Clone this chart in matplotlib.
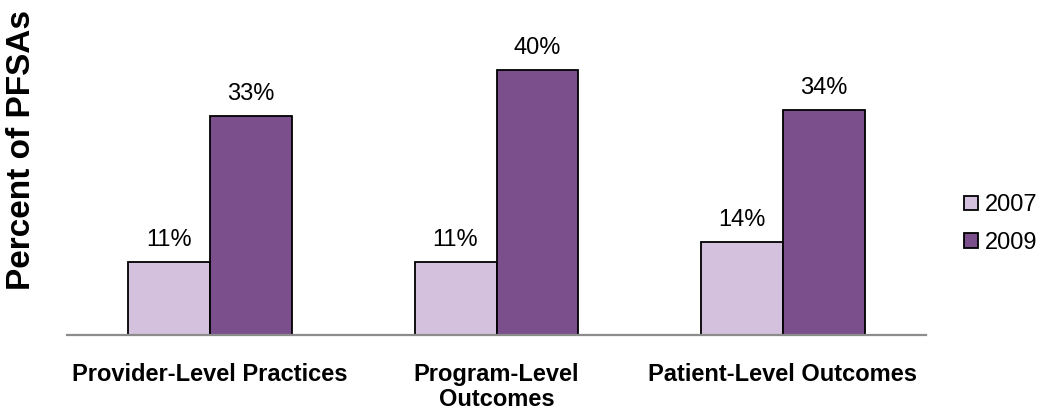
import matplotlib
matplotlib.use("Agg")
import matplotlib.pyplot as plt
import numpy as np

categories = ["Provider-Level Practices", "Program-Level\nOutcomes", "Patient-Level Outcomes"]
series_names = ["2007", "2009"]
values_2007 = [11, 11, 14]
values_2009 = [33, 40, 34]

plt.rcParams['font.family'] = ['Liberation Sans', 'DejaVu Sans']

fig = plt.figure(figsize=(10.42, 4.15), dpi=100)
W, H = 1042, 415
ax = fig.add_axes([67 / W, (H - 335) / H, (926 - 67) / W, 298 / H])

x = np.arange(len(categories))
bw = 0.286
c07 = "#D4C1DE"
c09 = "#7A4F8C"
b1 = ax.bar(x - bw / 2, values_2007, bw, color=c07, edgecolor="black", linewidth=1.3, label=series_names[0], zorder=3)
b2 = ax.bar(x + bw / 2, values_2009, bw, color=c09, edgecolor="black", linewidth=1.3, label=series_names[1], zorder=3)

for bars, vals in ((b1, values_2007), (b2, values_2009)):
    for r, v in zip(bars, vals):
        ax.annotate(f"{v:.0f}%", (r.get_x() + r.get_width() / 2, r.get_height()),
                    xytext=(0, 8), textcoords="offset points", ha="center", va="bottom",
                    fontsize=17, color="black")

ax.set_xlim(-0.5, 2.5)
ax.set_ylim(0, 45)
ax.set_yticks([])
for s in ("top", "right", "left"):
    ax.spines[s].set_visible(False)
ax.spines["bottom"].set_color("#8C8C8C")
ax.spines["bottom"].set_linewidth(1.6)
ax.spines["bottom"].set_zorder(4)
ax.set_xticks(x)
ax.set_xticklabels(categories, fontsize=17, fontweight="bold", linespacing=1.1)
ax.tick_params(axis="x", length=0, pad=20)

fig.text(22 / W, 1 - 150 / H, "Percent of PFSAs", rotation=90, fontsize=24,
         fontweight="bold", ha="center", va="center")

fig.legend(handles=[b1, b2], labels=series_names, loc="center left",
           bbox_to_anchor=(964 / W, 1 - 224 / H), frameon=False, fontsize=17,
           handlelength=0.6, handleheight=0.6, handletextpad=0.3, labelspacing=0.65,
           borderaxespad=0, borderpad=0)

fig.savefig("out.png", dpi=100)
